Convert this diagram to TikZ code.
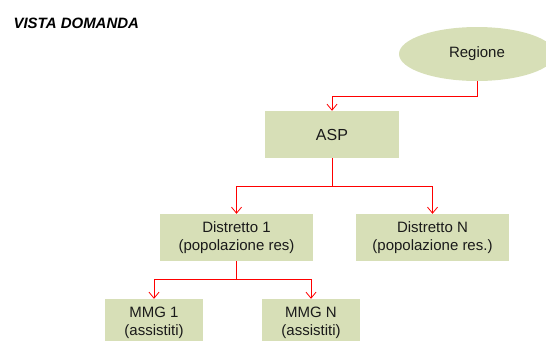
\documentclass[tikz,border=0pt]{standalone}
\usepackage{fontspec}
\setmainfont{Liberation Sans}
\usetikzlibrary{shapes.geometric,arrows.meta}
\definecolor{boxgreen}{RGB}{215,223,183}
\definecolor{textgray}{RGB}{26,26,26}

\begin{document}
\begin{tikzpicture}[x=1pt,y=-1pt,
	box/.style={fill=boxgreen,text=textgray,inner sep=0pt,align=center,font=\fontsize{15}{18}\selectfont},
	link/.style={draw=red,line width=0.8pt,-{Straight Barb[length=6pt,width=10pt]}}]
				\useasboundingbox (0,0) rectangle (546,340);
				% Vista domanda
				\node[anchor=base west,font=\fontsize{15}{18}\selectfont\bfseries\itshape] (Title) at (10,28) {VISTA DOMANDA};
				\node[box,ellipse,minimum width=156pt,minimum height=54pt] (Regione) at (477,54) {Regione};
				\node[box,minimum width=134pt,minimum height=47pt,font=\fontsize{16}{18}\selectfont] (ASP) at (332,134.5) {ASP};
				\node[box,minimum width=153pt,minimum height=47pt] (Distretto1) at (236.5,237.5) {Distretto 1\\(popolazione res)};
				\node[box,minimum width=153pt,minimum height=47pt] (DistrettoN) at (432.5,237.5) {Distretto N\\(popolazione res.)};
				\node[box,minimum width=98pt,minimum height=47pt] (MMG1) at (154,322.5) {MMG 1\\(assistiti)};
				\node[box,minimum width=98pt,minimum height=47pt] (MMGN) at (311,322.5) {MMG N\\(assistiti)};
				
				\draw[link] (Regione.south) -- ++(0,15) -| (ASP.north);
				\draw[link] (ASP.south) -- ++(0,28) -| (Distretto1.north);
				\draw[link] (ASP.south) -- ++(0,28) -| (DistrettoN.north);
				\draw[link] (Distretto1.south) -- ++(0,18) -| (MMG1.north);
				\draw[link] (Distretto1.south) -- ++(0,18) -| (MMGN.north);
				
\end{tikzpicture}
\end{document}
